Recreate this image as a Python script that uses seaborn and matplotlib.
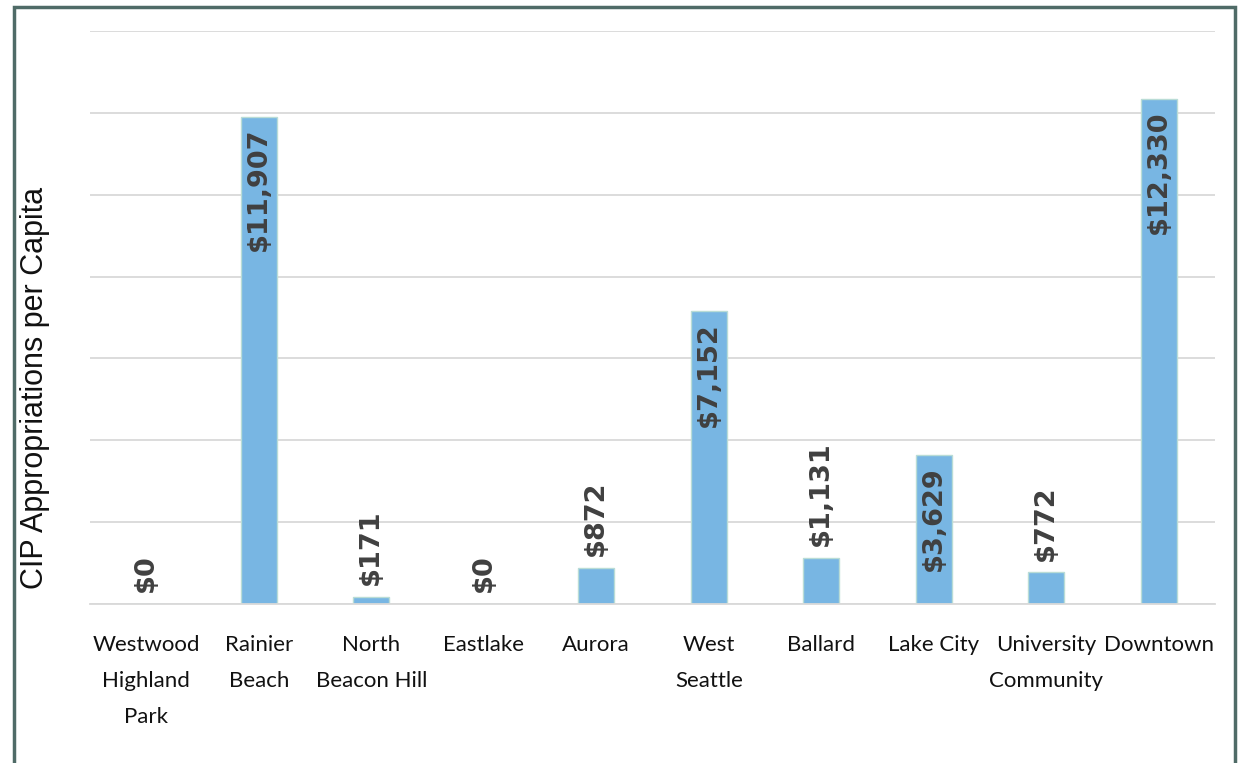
import matplotlib
matplotlib.use("Agg")
import matplotlib.pyplot as plt
import seaborn as sns
import pandas as pd
from matplotlib.patches import Rectangle

categories = ["Westwood\nHighland\nPark", "Rainier\nBeach", "North\nBeacon Hill", "Eastlake",
              "Aurora", "West\nSeattle", "Ballard", "Lake City", "University\nCommunity", "Downtown"]
values = [0, 11907, 171, 0, 872, 7152, 1131, 3629, 772, 12330]
y_ticks = [0, 2000, 4000, 6000, 8000, 10000, 12000, 14000]

sns.set_theme(style="white")
plt.rcParams['font.family'] = ['Lato', 'DejaVu Sans']

df = pd.DataFrame({"cat": categories, "val": values})

fig = plt.figure(figsize=(12.39, 7.63), dpi=100)
ax = fig.add_axes([90/1239, 1-604/763, (1215-90)/1239, (604-31)/763])

sns.barplot(data=df, x="cat", y="val", ax=ax, color="#78b6e3", width=0.32,
            edgecolor="#b9dcd6", linewidth=1.0, saturation=1)

ax.set_ylim(0, 14000)
ax.set_xlim(-0.5, len(categories) - 0.5)
ax.set_yticks(y_ticks)
ax.set_yticklabels([])
ax.tick_params(axis='y', length=0)
ax.tick_params(axis='x', length=0, pad=22)
for lab in ax.get_xticklabels():
    lab.set_fontsize(16)
    lab.set_color("#111111")
    lab.set_linespacing(2.0)
ax.yaxis.grid(True, color="#d9d9d9", linewidth=1.3)
ax.set_axisbelow(True)
for s in ["top", "right", "left"]:
    ax.spines[s].set_visible(False)
ax.spines["bottom"].set_color("#d9d9d9")
ax.spines["bottom"].set_linewidth(1.3)
ax.set_xlabel("")
ax.set_ylabel("CIP Appropriations per Capita", fontsize=22, color="#111111",
              family=['Liberation Sans', 'DejaVu Sans'])
ax.yaxis.set_label_coords((50-90)/1125, (604-388)/573)

for i, v in enumerate(values):
    txt = f"${v:,.0f}"
    if v > 2500:
        ax.text(i, v - 270, txt, rotation=90, ha="center", va="top", fontsize=19.5,
                fontweight="bold", color="#404040", family=['DejaVu Sans'])
    else:
        ax.text(i, v + 290, txt, rotation=90, ha="center", va="bottom", fontsize=19.5,
                fontweight="bold", color="#404040", family=['DejaVu Sans'])

fig.patches.append(Rectangle((14/1239, -0.05), (1235-14)/1239, 1.05 - 7/763,
                             transform=fig.transFigure, fill=False,
                             edgecolor="#4f6b67", linewidth=2.5))

fig.savefig("out.png", dpi=100)
